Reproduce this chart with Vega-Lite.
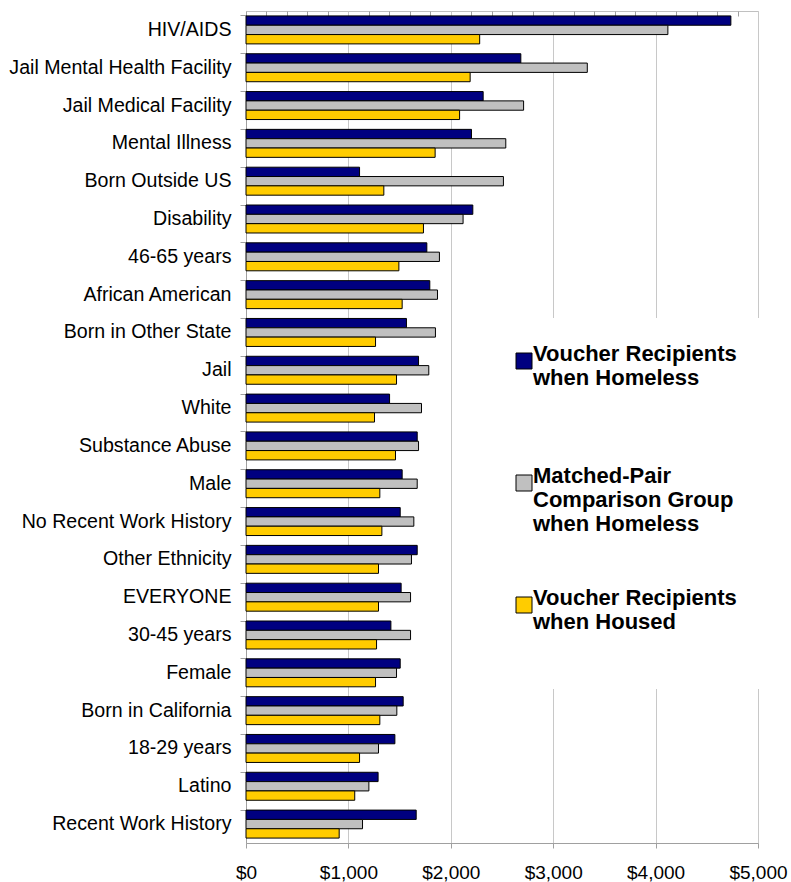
{
  "$schema": "https://vega.github.io/schema/vega-lite/v6.json",
  "width": 512,
  "height": 832,
  "autosize": {"type": "none"},
  "padding": {"left": 246, "top": 11, "right": 33, "bottom": 39},
  "background": "white",
  "config": {
    "font": "Liberation Sans",
    "view": {"stroke": "#c0c0c0", "strokeWidth": 1}
  },
  "data": {
    "values": [
      {"group": "HIV/AIDS", "series": "Voucher Recipients when Homeless", "cost": 4735},
      {"group": "HIV/AIDS", "series": "Matched-Pair Comparison Group when Homeless", "cost": 4120},
      {"group": "HIV/AIDS", "series": "Voucher Recipients when Housed", "cost": 2282},
      {"group": "Jail Mental Health Facility", "series": "Voucher Recipients when Homeless", "cost": 2684},
      {"group": "Jail Mental Health Facility", "series": "Matched-Pair Comparison Group when Homeless", "cost": 3333},
      {"group": "Jail Mental Health Facility", "series": "Voucher Recipients when Housed", "cost": 2189},
      {"group": "Jail Medical Facility", "series": "Voucher Recipients when Homeless", "cost": 2316},
      {"group": "Jail Medical Facility", "series": "Matched-Pair Comparison Group when Homeless", "cost": 2711},
      {"group": "Jail Medical Facility", "series": "Voucher Recipients when Housed", "cost": 2086},
      {"group": "Mental Illness", "series": "Voucher Recipients when Homeless", "cost": 2202},
      {"group": "Mental Illness", "series": "Matched-Pair Comparison Group when Homeless", "cost": 2537},
      {"group": "Mental Illness", "series": "Voucher Recipients when Housed", "cost": 1847},
      {"group": "Born Outside US", "series": "Voucher Recipients when Homeless", "cost": 1109},
      {"group": "Born Outside US", "series": "Matched-Pair Comparison Group when Homeless", "cost": 2514},
      {"group": "Born Outside US", "series": "Voucher Recipients when Housed", "cost": 1346},
      {"group": "Disability", "series": "Voucher Recipients when Homeless", "cost": 2215},
      {"group": "Disability", "series": "Matched-Pair Comparison Group when Homeless", "cost": 2120},
      {"group": "Disability", "series": "Voucher Recipients when Housed", "cost": 1733},
      {"group": "46-65 years", "series": "Voucher Recipients when Homeless", "cost": 1766},
      {"group": "46-65 years", "series": "Matched-Pair Comparison Group when Homeless", "cost": 1889},
      {"group": "46-65 years", "series": "Voucher Recipients when Housed", "cost": 1493},
      {"group": "African American", "series": "Voucher Recipients when Homeless", "cost": 1795},
      {"group": "African American", "series": "Matched-Pair Comparison Group when Homeless", "cost": 1870},
      {"group": "African American", "series": "Voucher Recipients when Housed", "cost": 1525},
      {"group": "Born in Other State", "series": "Voucher Recipients when Homeless", "cost": 1567},
      {"group": "Born in Other State", "series": "Matched-Pair Comparison Group when Homeless", "cost": 1850},
      {"group": "Born in Other State", "series": "Voucher Recipients when Housed", "cost": 1265},
      {"group": "Jail", "series": "Voucher Recipients when Homeless", "cost": 1685},
      {"group": "Jail", "series": "Matched-Pair Comparison Group when Homeless", "cost": 1785},
      {"group": "Jail", "series": "Voucher Recipients when Housed", "cost": 1470},
      {"group": "White", "series": "Voucher Recipients when Homeless", "cost": 1402},
      {"group": "White", "series": "Matched-Pair Comparison Group when Homeless", "cost": 1714},
      {"group": "White", "series": "Voucher Recipients when Housed", "cost": 1255},
      {"group": "Substance Abuse", "series": "Voucher Recipients when Homeless", "cost": 1672},
      {"group": "Substance Abuse", "series": "Matched-Pair Comparison Group when Homeless", "cost": 1685},
      {"group": "Substance Abuse", "series": "Voucher Recipients when Housed", "cost": 1460},
      {"group": "Male", "series": "Voucher Recipients when Homeless", "cost": 1525},
      {"group": "Male", "series": "Matched-Pair Comparison Group when Homeless", "cost": 1672},
      {"group": "Male", "series": "Voucher Recipients when Housed", "cost": 1307},
      {"group": "No Recent Work History", "series": "Voucher Recipients when Homeless", "cost": 1506},
      {"group": "No Recent Work History", "series": "Matched-Pair Comparison Group when Homeless", "cost": 1639},
      {"group": "No Recent Work History", "series": "Voucher Recipients when Housed", "cost": 1327},
      {"group": "Other Ethnicity", "series": "Voucher Recipients when Homeless", "cost": 1672},
      {"group": "Other Ethnicity", "series": "Matched-Pair Comparison Group when Homeless", "cost": 1616},
      {"group": "Other Ethnicity", "series": "Voucher Recipients when Housed", "cost": 1294},
      {"group": "EVERYONE", "series": "Voucher Recipients when Homeless", "cost": 1515},
      {"group": "EVERYONE", "series": "Matched-Pair Comparison Group when Homeless", "cost": 1607},
      {"group": "EVERYONE", "series": "Voucher Recipients when Housed", "cost": 1294},
      {"group": "30-45 years", "series": "Voucher Recipients when Homeless", "cost": 1415},
      {"group": "30-45 years", "series": "Matched-Pair Comparison Group when Homeless", "cost": 1607},
      {"group": "30-45 years", "series": "Voucher Recipients when Housed", "cost": 1275},
      {"group": "Female", "series": "Voucher Recipients when Homeless", "cost": 1506},
      {"group": "Female", "series": "Matched-Pair Comparison Group when Homeless", "cost": 1470},
      {"group": "Female", "series": "Voucher Recipients when Housed", "cost": 1265},
      {"group": "Born in California", "series": "Voucher Recipients when Homeless", "cost": 1535},
      {"group": "Born in California", "series": "Matched-Pair Comparison Group when Homeless", "cost": 1473},
      {"group": "Born in California", "series": "Voucher Recipients when Housed", "cost": 1307},
      {"group": "18-29 years", "series": "Voucher Recipients when Homeless", "cost": 1454},
      {"group": "18-29 years", "series": "Matched-Pair Comparison Group when Homeless", "cost": 1294},
      {"group": "18-29 years", "series": "Voucher Recipients when Housed", "cost": 1109},
      {"group": "Latino", "series": "Voucher Recipients when Homeless", "cost": 1290},
      {"group": "Latino", "series": "Matched-Pair Comparison Group when Homeless", "cost": 1200},
      {"group": "Latino", "series": "Voucher Recipients when Housed", "cost": 1062},
      {"group": "Recent Work History", "series": "Voucher Recipients when Homeless", "cost": 1662},
      {"group": "Recent Work History", "series": "Matched-Pair Comparison Group when Homeless", "cost": 1138},
      {"group": "Recent Work History", "series": "Voucher Recipients when Housed", "cost": 910}
    ]
  },
  "layer": [
    {
      "mark": {"type": "bar", "stroke": "black", "strokeWidth": 1},
      "encoding": {
        "y": {
          "field": "group",
          "type": "nominal",
          "sort": null,
          "scale": {"paddingInner": 0.26, "paddingOuter": 0.13},
          "axis": {
            "title": null,
            "labelFontSize": 19.6,
            "labelColor": "black",
            "labelPadding": 9,
            "labelLimit": 300,
            "tickSize": 6,
            "tickColor": "#a0a0a0",
            "domainColor": "#a0a0a0",
            "bandPosition": 0,
            "grid": false
          }
        },
        "yOffset": {
          "field": "series",
          "sort": ["Voucher Recipients when Homeless", "Matched-Pair Comparison Group when Homeless", "Voucher Recipients when Housed"],
          "scale": {"paddingInner": 0, "paddingOuter": 0}
        },
        "x": {
          "field": "cost",
          "type": "quantitative",
          "scale": {"domain": [0, 5000], "nice": false},
          "axis": {
            "title": null,
            "values": [0, 1000, 2000, 3000, 4000, 5000],
            "format": "$,.0f",
            "grid": true,
            "gridColor": "#c8c8c8",
            "domainColor": "#a0a0a0",
            "tickColor": "#a0a0a0",
            "tickSize": 5,
            "labelFontSize": 19,
            "labelColor": "black",
            "labelPadding": 15,
            "labelFlush": false
          }
        },
        "color": {
          "field": "series",
          "type": "nominal",
          "scale": {
            "domain": ["Voucher Recipients when Homeless", "Matched-Pair Comparison Group when Homeless", "Voucher Recipients when Housed"],
            "range": ["#000080", "#c0c0c0", "#ffcc00"]
          },
          "legend": {
            "title": null,
            "orient": "none",
            "legendX": 235,
            "legendY": 307,
            "fillColor": "white",
            "padding": 32,
            "symbolType": "square",
            "symbolSize": 256,
            "symbolStrokeColor": "black",
            "symbolStrokeWidth": 1,
            "labelFontSize": 22,
            "labelFontWeight": "bold",
            "labelColor": "black",
            "labelOffset": -2,
            "labelLimit": 400,
            "rowPadding": 52,
            "gridAlign": "all",
            "labelBaseline": "alphabetic",
            "labelExpr": "datum.value == 'Voucher Recipients when Homeless' ? ['Voucher Recipients', 'when Homeless'] : datum.value == 'Voucher Recipients when Housed' ? ['Voucher Recipients', 'when Housed', ' '] : ['Matched-Pair', 'Comparison Group', 'when Homeless']"
          }
        }
      }
    },
    {
      "mark": {"type": "bar", "opacity": 0},
      "encoding": {
        "y": {"field": "group", "type": "nominal", "sort": null},
        "yOffset": {
          "field": "series",
          "sort": ["Voucher Recipients when Homeless", "Matched-Pair Comparison Group when Homeless", "Voucher Recipients when Housed"]
        },
        "x": {
          "field": "cost",
          "type": "quantitative",
          "axis": {
            "title": null,
            "values": [200, 400, 600, 800, 1200, 1400, 1600, 1800, 2200, 2400, 2600, 2800, 3200, 3400, 3600, 3800, 4200, 4400, 4600, 4800],
            "labels": false,
            "domain": false,
            "grid": false,
            "tickSize": -5,
            "tickColor": "#a0a0a0"
          }
        }
      }
    }
  ],
  "resolve": {"axis": {"x": "independent"}}
}
